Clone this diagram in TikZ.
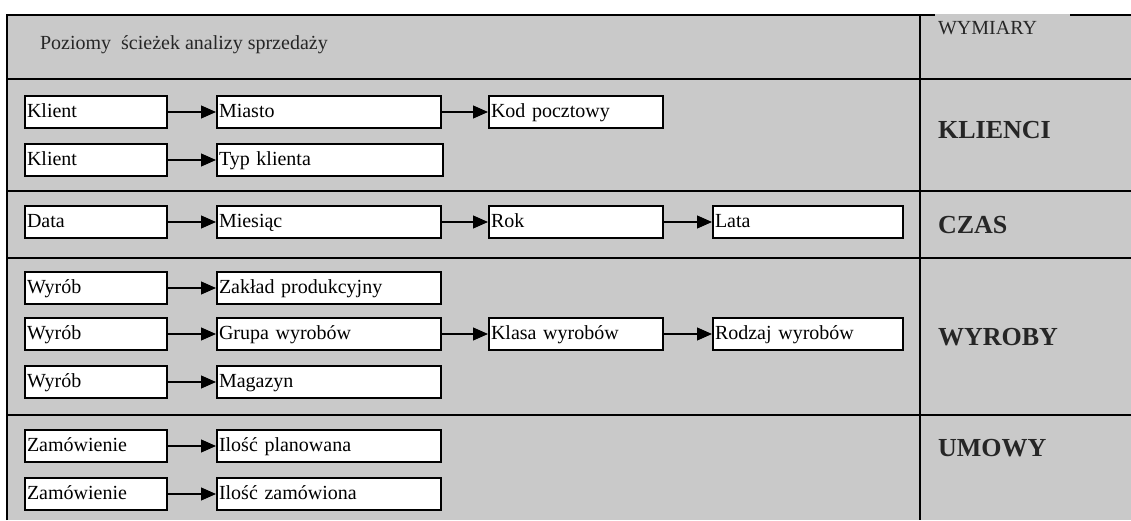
\documentclass[tikz,border=0pt]{standalone}
\usepackage{fontspec}
\setmainfont{Liberation Serif}
\usetikzlibrary{arrows.meta}

\begin{document}
\begin{tikzpicture}[x=0.5pt, y=-0.5pt,
		pole/.style={draw, fill=white, line width=1pt, anchor=west, inner xsep=1pt,
			minimum height=14pt, text height=7pt, text depth=2pt, text width=#1,
			font=\fontsize{10}{12}\selectfont},
		strzalka/.style={-{Triangle[length=7.5pt,width=6.5pt]}, line width=0.6pt},
		linia/.style={line width=1pt},
		wymiar/.style={anchor=west, text=black!85, font=\fontsize{13}{15}\selectfont\bfseries}]
		\useasboundingbox (0,0) rectangle (1131,520);
		\fill[black!21] (7,14) rectangle (1131,520);						% Tło
		\draw[linia] (7,520) -- (7,15) -- (935,15);						% Ramka
		\draw[linia] (1070,15) -- (1131,15);
		\draw[linia] (920,15) -- (920,520);								% Podział na wymiary
		\foreach \y in {79,191,258,415}
			\draw[linia] (7,\y) -- (1131,\y);
		\node[anchor=west, text=black!85] (tytul) at (33,45) {Poziomy~ ścieżek analizy sprzedaży};
		\node[anchor=west, text=black!85] (wym) at (931,28) {WYMIARY};
		
		% Wymiary
		\node[wymiar] (klienci) at (931,130) {KLIENCI};
		\node[wymiar] (czas) at (931,225) {CZAS};
		\node[wymiar] (wyroby) at (931,337) {WYROBY};
		\node[wymiar] (umowy) at (931,448) {UMOWY};
		
		% Klienci
		\node[pole=69pt] (k1a) at (24,112) {Klient};
		\node[pole=110pt] (k1b) at (216,112) {Miasto};
		\node[pole=85pt] (k1c) at (488,112) {Kod pocztowy};
		\node[pole=69pt] (k2a) at (24,160) {Klient};
		\node[pole=111pt] (k2b) at (216,160) {Typ klienta};
		% Czas
		\node[pole=69pt] (c1a) at (24,222) {Data};
		\node[pole=110pt] (c1b) at (216,222) {Miesiąc};
		\node[pole=85pt] (c1c) at (488,222) {Rok};
		\node[pole=93pt] (c1d) at (712,222) {Lata};
		% Wyroby
		\node[pole=69pt] (w1a) at (24,288) {Wyrób};
		\node[pole=110pt] (w1b) at (216,288) {Zakład produkcyjny};
		\node[pole=69pt] (w2a) at (24,334) {Wyrób};
		\node[pole=110pt] (w2b) at (216,334) {Grupa wyrobów};
		\node[pole=85pt] (w2c) at (488,334) {Klasa wyrobów};
		\node[pole=93pt] (w2d) at (712,334) {Rodzaj wyrobów};
		\node[pole=69pt] (w3a) at (24,382) {Wyrób};
		\node[pole=110pt] (w3b) at (216,382) {Magazyn};
		% Umowy
		\node[pole=69pt] (u1a) at (24,446) {Zamówienie};
		\node[pole=110pt] (u1b) at (216,446) {Ilość planowana};
		\node[pole=69pt] (u2a) at (24,494) {Zamówienie};
		\node[pole=110pt] (u2b) at (216,494) {Ilość zamówiona};
		
		% Strzałki
		\draw[strzalka] (k1a) -- (k1b);
		\draw[strzalka] (k1b) -- (k1c);
		\draw[strzalka] (k2a) -- (k2b);
		\draw[strzalka] (c1a) -- (c1b);
		\draw[strzalka] (c1b) -- (c1c);
		\draw[strzalka] (c1c) -- (c1d);
		\draw[strzalka] (w1a) -- (w1b);
		\draw[strzalka] (w2a) -- (w2b);
		\draw[strzalka] (w2b) -- (w2c);
		\draw[strzalka] (w2c) -- (w2d);
		\draw[strzalka] (w3a) -- (w3b);
		\draw[strzalka] (u1a) -- (u1b);
		\draw[strzalka] (u2a) -- (u2b);
	\end{tikzpicture}
\end{document}
